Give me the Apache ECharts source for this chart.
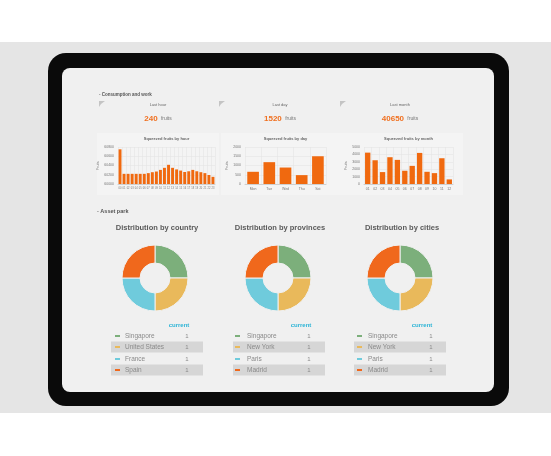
<!DOCTYPE html>
<html>
<head>
<meta charset="utf-8">
<script src="https://cdn.jsdelivr.net/npm/echarts@6/dist/echarts.min.js"></script>
<style>
  html, body { margin: 0; padding: 0; background: #fff; }
  #main { width: 551px; height: 456px; }
</style>
</head>
<body>
<div id="main"></div>
<script>
// data
var hourLabels = ["00","01","02","03","04","05","06","07","08","09","10","11","12","13","14","15","16","17","18","19","20","21","22","23"];
var hourValues = [60750,60220,60220,60220,60220,60220,60220,60235,60255,60270,60305,60350,60415,60350,60315,60290,60260,60275,60305,60275,60255,60235,60195,60155];
var dayLabels = ["Mon","Tue","Wed","Thu","Sat"];
var dayValues = [660,1180,890,480,1500];
var monthLabels = ["01","02","03","04","05","06","07","08","09","10","11","12"];
var monthValues = [4240,3210,1610,3620,3260,1790,2450,4200,1650,1470,3480,620];

var kpiTitles = ["Last hour","Last day","Last month"];
var kpiValues = ["240","1520","40650"];

var countryNames = ["Singapore","United States","France","Spain"];
var countryValues = [1,1,1,1];
var provinceNames = ["Singapore","New York","Paris","Madrid"];
var provinceValues = [1,1,1,1];
var cityNames = ["Singapore","New York","Paris","Madrid"];
var cityValues = [1,1,1,1];

var pieColors = ["#7caf7b","#e9b95b","#6fcbdc","#f0681c"];
var orange = "#f0690f";
var font = "Liberation Sans, Arial, sans-serif";

var myChart = echarts.init(document.getElementById("main"));

// bar chart pieces
var barGrids = [
  { left: 118, top: 147, width: 97, height: 37 },
  { left: 245, top: 147, width: 81, height: 37 },
  { left: 364, top: 147, width: 89, height: 37 }
];
var barTitles = ["Squeezed fruits by hour","Squeezed fruits by day","Squeezed fruits by month"];
var barCats = [hourLabels, dayLabels, monthLabels];
var barData = [hourValues, dayValues, monthValues];
var barAxis = [
  { min: 60000, max: 60800, interval: 200 },
  { min: 0, max: 2000, interval: 500 },
  { min: 0, max: 5000, interval: 1000 }
];

var xAxes = [], yAxes = [], series = [];
for (var i = 0; i < 3; i++) {
  xAxes.push({
    gridIndex: i, type: "category", data: barCats[i],
    axisLine: { lineStyle: { color: "#cfcfcf" } },
    axisTick: { show: false },
    splitLine: { show: true, lineStyle: { color: "#e3e3e3", width: 0.5 } },
    axisLabel: { fontSize: i === 0 ? 2.6 : 3.5, color: "#777", margin: 3, interval: 0, fontFamily: font }
  });
  yAxes.push({
    gridIndex: i, type: "value",
    min: barAxis[i].min, max: barAxis[i].max, interval: barAxis[i].interval,
    name: "Fruits", nameLocation: "middle", nameGap: 14,
    nameTextStyle: { fontSize: 3.5, color: "#777", fontFamily: font },
    axisLine: { show: false },
    axisTick: { show: false },
    splitLine: { lineStyle: { color: "#e3e3e3", width: 0.5 } },
    axisLabel: {
      fontSize: 3.5, color: "#777", margin: 4, fontFamily: font,
      formatter: function (v) { return String(v); }
    }
  });
  series.push({
    type: "bar", xAxisIndex: i, yAxisIndex: i, data: barData[i],
    barWidth: i === 1 ? "72%" : "72%",
    itemStyle: { color: orange },
    silent: true
  });
}

// pies
var pieCenters = [155, 278, 400];
var pieNames = [countryNames, provinceNames, cityNames];
var pieValues = [countryValues, provinceValues, cityValues];
for (var p = 0; p < 3; p++) {
  series.push({
    type: "pie",
    center: [pieCenters[p], 278],
    radius: [15, 33],
    startAngle: 90,
    label: { show: false },
    labelLine: { show: false },
    silent: true,
    itemStyle: { borderColor: "#f0f0f0", borderWidth: 1 },
    data: pieNames[p].map(function (n, k) {
      return { name: n, value: pieValues[p][k], itemStyle: { color: pieColors[k] } };
    })
  });
}

// static pieces of the tablet mockup
var graphics = [
  { type: "rect", z: -10, shape: { x: 0, y: 42, width: 551, height: 371 }, style: { fill: "#e5e5e5" } },
  { type: "rect", z: -9, shape: { x: 48, y: 53, width: 461, height: 353, r: 18 }, style: { fill: "#0a0a0a" } },
  { type: "rect", z: -8, shape: { x: 62, y: 68, width: 432, height: 324, r: 8 }, style: { fill: "#f0f0f0" } },
  { type: "text", z: 5, x: 99, y: 92, style: { text: "- Consumption and work", font: "bold 4.5px " + font, fill: "#555" } },
  { type: "text", z: 5, x: 97, y: 208, style: { text: "- Asset park", font: "bold 5.5px " + font, fill: "#555" } }
];

// chart panels
var panelX = [97, 221, 341];
for (var q = 0; q < 3; q++) {
  graphics.push({ type: "rect", z: -7, shape: { x: panelX[q], y: 133, width: 122, height: 62 }, style: { fill: "#f4f4f4" } });
  graphics.push({
    type: "text", z: 5, x: barGrids[q].left + barGrids[q].width / 2, y: 139,
    style: { text: barTitles[q], font: "bold 4px " + font, fill: "#666", align: "center", verticalAlign: "middle" }
  });
}

// KPIs
var kpiX = [158, 280, 400];
var iconX = [102, 222, 343];
for (var k = 0; k < 3; k++) {
  graphics.push({
    type: "text", z: 5, x: kpiX[k], y: 105,
    style: { text: kpiTitles[k], font: "4px " + font, fill: "#666", align: "center", verticalAlign: "middle" }
  });
  graphics.push({
    type: "text", z: 5, x: kpiX[k], y: 119,
    style: {
      text: "{v|" + kpiValues[k] + "} {u|fruits}",
      align: "center", verticalAlign: "middle",
      rich: {
        v: { font: "bold 8px " + font, fill: "#f07020" },
        u: { font: "5px " + font, fill: "#777" }
      }
    }
  });
  graphics.push({
    type: "polygon", z: 5,
    shape: { points: [[iconX[k] - 3, 101], [iconX[k] + 3, 101], [iconX[k] - 1, 104], [iconX[k] - 3, 107]] },
    style: { fill: "#c4c4c4" }
  });
}

// pie titles + tables
var pieTitleText = ["Distribution by country","Distribution by provinces","Distribution by cities"];
var tableLeft = [111, 233, 354];
var tableWidth = 92;
var dashX = [115, 235, 357];
var nameX = [125, 247, 368];
var valX = [187, 309, 431];
var currentX = [179, 301, 422];
var rowY = [336, 347, 359, 370];
for (var t = 0; t < 3; t++) {
  graphics.push({
    type: "text", z: 5, x: pieCenters[t] + 2, y: 228,
    style: { text: pieTitleText[t], font: "bold 7.5px " + font, fill: "#5a5a5a", align: "center", verticalAlign: "middle" }
  });
  graphics.push({
    type: "text", z: 5, x: currentX[t], y: 325,
    style: { text: "current", font: "bold 6px " + font, fill: "#2cb4d6", align: "center", verticalAlign: "middle" }
  });
  for (var r = 0; r < 4; r++) {
    if (r % 2 === 1) {
      graphics.push({ type: "rect", z: -6, shape: { x: tableLeft[t], y: rowY[r] - 5.5, width: tableWidth, height: 11 }, style: { fill: "#d6d6d6" } });
    }
    graphics.push({ type: "rect", z: 5, shape: { x: dashX[t], y: rowY[r] - 1, width: 5, height: 2 }, style: { fill: pieColors[r] } });
    graphics.push({
      type: "text", z: 5, x: nameX[t], y: rowY[r],
      style: { text: pieNames[t][r], font: "6.5px " + font, fill: "#8a8a8a", verticalAlign: "middle" }
    });
    graphics.push({
      type: "text", z: 5, x: valX[t], y: rowY[r],
      style: { text: String(pieValues[t][r]), font: "6px " + font, fill: "#8a8a8a", align: "center", verticalAlign: "middle" }
    });
  }
}

myChart.setOption({
  animation: false,
  backgroundColor: "#ffffff",
  grid: barGrids,
  xAxis: xAxes,
  yAxis: yAxes,
  series: series,
  graphic: graphics
});
</script>
</body>
</html>
